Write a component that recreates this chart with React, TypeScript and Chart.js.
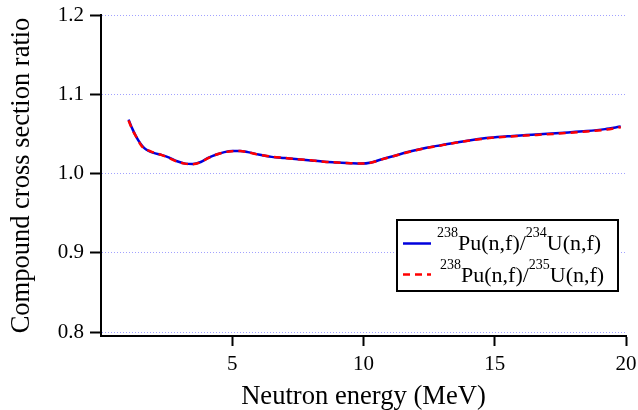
import React, { useEffect, useRef } from "react";
import { Chart, registerables } from "chart.js";

Chart.register(...registerables);

// Neutron energy (MeV)
const energy = [1.05, 1.2, 1.35, 1.5, 1.65, 1.85, 2.0, 2.3, 2.6, 2.9, 3.2, 3.5, 3.8, 4.1, 4.4, 4.7, 5.0, 5.3, 5.6, 6.0, 6.5, 7.0, 7.5, 8.0, 8.5, 9.0, 9.5, 9.9, 10.3, 10.7, 11.2, 11.8, 12.4, 13.0, 13.6, 14.2, 14.8, 15.5, 16.2, 17.0, 17.8, 18.5, 19.2, 19.8];
// 238Pu(n,f)/234U(n,f)
const ratio234 = [1.068, 1.056, 1.046, 1.038, 1.032, 1.028, 1.026, 1.0235, 1.020, 1.0155, 1.0125, 1.012, 1.0145, 1.020, 1.024, 1.027, 1.0285, 1.0285, 1.027, 1.024, 1.021, 1.0195, 1.018, 1.0165, 1.015, 1.014, 1.013, 1.0125, 1.014, 1.018, 1.0225, 1.028, 1.0325, 1.036, 1.0395, 1.0425, 1.045, 1.047, 1.0485, 1.0502, 1.0518, 1.0535, 1.056, 1.0592];
// 238Pu(n,f)/235U(n,f)
const ratio235 = [1.067, 1.055, 1.046, 1.037, 1.031, 1.0285, 1.0265, 1.0235, 1.0195, 1.015, 1.0125, 1.0118, 1.0143, 1.0198, 1.024, 1.0268, 1.0282, 1.0284, 1.0268, 1.0238, 1.0212, 1.0196, 1.018, 1.0166, 1.015, 1.014, 1.013, 1.0126, 1.0138, 1.0178, 1.0224, 1.0278, 1.0322, 1.0358, 1.0393, 1.0423, 1.0448, 1.0466, 1.048, 1.0495, 1.0512, 1.053, 1.0552, 1.0585];

const yTicks = [0.8, 0.9, 1.0, 1.1, 1.2];
const xTicks = [5, 10, 15, 20];
const legendLabels = ["^{238}Pu(n,f)/^{234}U(n,f)", "^{238}Pu(n,f)/^{235}U(n,f)"];
const xTitle = "Neutron energy (MeV)";
const yTitle = "Compound cross section ratio";

const SERIF = '"Liberation Serif", "Times New Roman", serif';

function parseParts(s: string) {
  const parts: { t: string; sup: boolean }[] = [];
  const re = /\^\{([^}]*)\}|([^^]+)/g;
  let m: RegExpExecArray | null;
  while ((m = re.exec(s))) {
    if (m[1] !== undefined) parts.push({ t: m[1], sup: true });
    else parts.push({ t: m[2], sup: false });
  }
  return parts;
}

const supLegend = {
  id: "supLegend",
  afterDraw(chart: any) {
    const ctx = chart.ctx as CanvasRenderingContext2D;
    const bx = 397, by = 220, bw = 221, bh = 71;
    ctx.save();
    ctx.fillStyle = "#ffffff";
    ctx.fillRect(bx, by, bw, bh);
    ctx.strokeStyle = "#000000";
    ctx.lineWidth = 2;
    ctx.strokeRect(bx, by, bw, bh);
    const rows = [
      { y: 243.5, base: 250, x0: 437, ds: chart.data.datasets[1] },
      { y: 274.5, base: 281.5, x0: 440, ds: chart.data.datasets[0] },
    ];
    rows.forEach((r, i) => {
      ctx.save();
      ctx.strokeStyle = r.ds.borderColor;
      ctx.lineWidth = 2.5;
      ctx.setLineDash(r.ds.borderDash || []);
      ctx.beginPath();
      ctx.moveTo(403, r.y);
      ctx.lineTo(431, r.y);
      ctx.stroke();
      ctx.restore();
      let x = r.x0;
      ctx.fillStyle = "#000000";
      ctx.textBaseline = "alphabetic";
      ctx.textAlign = "left";
      for (const p of parseParts(legendLabels[i])) {
        ctx.font = (p.sup ? "14px " : "22px ") + SERIF;
        ctx.fillText(p.t, x, p.sup ? r.base - 13 : r.base);
        x += ctx.measureText(p.t).width;
      }
    });
    ctx.restore();
  },
};

export default function App() {
  const ref = useRef<HTMLCanvasElement | null>(null);
  useEffect(() => {
    document.body.style.margin = "0";
    const canvas = ref.current!;
    const chart = new Chart(canvas, {
      type: "line",
      data: {
        datasets: [
          {
            label: "238Pu(n,f)/235U(n,f)",
            data: energy.map((e, i) => ({ x: e, y: ratio235[i] })),
            borderColor: "#ff0000",
            borderWidth: 2.5,
            borderDash: [7, 5],
            pointRadius: 0,
            cubicInterpolationMode: "monotone",
            fill: false,
            order: 0,
          },
          {
            label: "238Pu(n,f)/234U(n,f)",
            data: energy.map((e, i) => ({ x: e, y: ratio234[i] })),
            borderColor: "#0000dd",
            borderWidth: 2.5,
            pointRadius: 0,
            cubicInterpolationMode: "monotone",
            fill: false,
            order: 1,
          },
        ],
      },
      options: {
        responsive: false,
        animation: false,
        events: [],
        layout: { padding: { left: 0, top: 15, right: 12, bottom: 0 } },
        plugins: { legend: { display: false }, tooltip: { enabled: false } },
        font: { family: SERIF },
        scales: {
          x: {
            type: "linear",
            min: 0,
            max: 20,
            afterFit: (s: any) => { s.height = 74; s.paddingLeft = 0; s.paddingRight = 0; },
            afterBuildTicks: (s: any) => { s.ticks = xTicks.map((v) => ({ value: v })); },
            grid: { drawOnChartArea: false, drawTicks: true, tickLength: 10, tickColor: "#000", tickWidth: 2 },
            border: { display: true, color: "#000", width: 2 },
            ticks: { color: "#000", font: { family: SERIF, size: 21 }, padding: 6, maxRotation: 0, callback: (v: any) => String(v) },
            title: { display: true, text: xTitle, color: "#000", font: { family: SERIF, size: 26.6 }, padding: { top: 0, bottom: -3 } },
          },
          y: {
            type: "linear",
            min: 0.795,
            max: 1.2,
            afterFit: (s: any) => { s.width = 101; s.paddingTop = 0; s.paddingBottom = 0; },
            afterBuildTicks: (s: any) => { s.ticks = yTicks.map((v) => ({ value: v })); },
            grid: { color: "rgba(130,130,255,0.75)", lineWidth: 1, drawTicks: true, tickLength: 11, tickColor: "#000", tickWidth: 2, tickBorderDash: [] },
            border: { display: true, color: "#000", width: 2, dash: [1, 2] },
            ticks: { color: "#000", font: { family: SERIF, size: 21 }, padding: 6, callback: (v: any) => Number(v).toFixed(1) },
            title: { display: true, text: yTitle, color: "#000", font: { family: SERIF, size: 26.5 }, padding: { top: 6, bottom: 0 } },
          },
        },
      },
      plugins: [supLegend],
    } as any);
    return () => chart.destroy();
  }, []);
  return <canvas ref={ref} width={638} height={410} style={{ display: "block", width: 638, height: 410 }} />;
}
